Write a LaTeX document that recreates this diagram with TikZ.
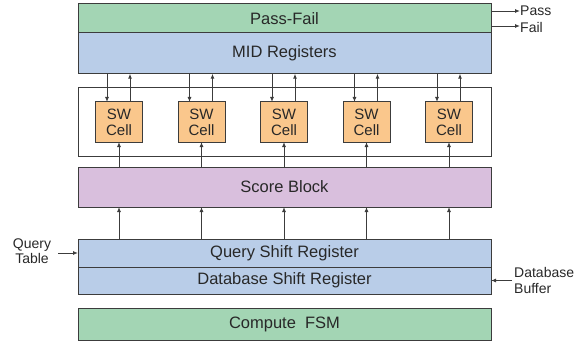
\documentclass[tikz,border=0pt]{standalone}
\usepackage{fontspec}
\setmainfont{Liberation Sans}
\usetikzlibrary{arrows.meta}
\definecolor{lgreen}{RGB}{163,213,180}
\definecolor{lblue}{RGB}{185,205,232}
\definecolor{lpurple}{RGB}{217,191,221}
\definecolor{lorange}{RGB}{250,199,140}
\definecolor{edge}{RGB}{60,60,60}
\definecolor{txt}{RGB}{40,40,40}
\begin{document}
\begin{tikzpicture}[x=1pt,y=-1pt,
  blk/.style={draw=edge,line width=1pt,inner sep=0pt,outer sep=0pt,minimum width=413pt,text=txt,font=\fontsize{16.5}{18}\selectfont},
  cellbox/.style={draw=edge,line width=1pt,fill=lorange,inner sep=0pt,outer sep=0pt,minimum width=47pt,minimum height=40pt,align=center,text=txt,font=\fontsize{15}{16}\selectfont},
  lbl/.style={inner sep=0pt,align=left,text=txt,font=\fontsize{14}{15.5}\selectfont},
  arr/.style={draw=edge,line width=0.9pt,-{Latex[length=5pt,width=4pt]}}]
\useasboundingbox (0,0) rectangle (587,345);
\node[blk,fill=lgreen,minimum height=29.5pt] (pf) at (284.5,18.25) {Pass-Fail};
\node[blk,fill=lblue,minimum height=40.7pt] (mid) at (284.5,53.35) {MID Registers};
\node[blk,minimum height=69pt] (cont) at (284.5,122) {};
\foreach \i/\x in {1/119,2/201.5,3/284,4/366.5,5/449}{
  \node[cellbox] (c\i) at (\x,122) {SW\\Cell};
  \draw[arr] ([xshift=-12pt]c\i.north |- mid.south) -- ([xshift=-12pt]c\i.north);
  \draw[arr] ([xshift=11pt]c\i.north) -- ([xshift=11pt]c\i.north |- mid.south);
}
\node[blk,fill=lpurple,minimum height=40pt] (score) at (284.5,187) {Score Block};
\node[blk,fill=lblue,minimum height=28pt] (qsr) at (284.5,253) {Query Shift Register};
\node[blk,fill=lblue,minimum height=27pt] (dsr) at (284.5,280.5) {Database Shift Register};
\node[blk,fill=lgreen,minimum height=32pt] (fsm) at (284.5,324) {Compute\ \ FSM};
\foreach \i in {1,...,5}{
  \draw[arr] (c\i.south |- score.north) -- (c\i.south);
  \draw[arr] (c\i.south |- qsr.north) -- (c\i.south |- score.south);
}
\node[lbl,align=center] (qt) at (32,251) {Query\\Table};
\coordinate (qin) at (58,253);
\draw[arr] (qin) -- (qsr.west);
\node[lbl,anchor=west] (db) at (514,280.5) {Database\\Buffer};
\coordinate (din) at (512,280.5);
\draw[arr] (din) -- (dsr.east);
\coordinate (po) at (491,11);
\coordinate (fo) at (491,26);
\node[lbl,anchor=west] (pass) at (520,11) {Pass};
\node[lbl,anchor=west] (fail) at (520,27) {Fail};
\draw[arr] (po) -- (pass.west);
\draw[arr] (fo) -- (fo -| fail.west);
\end{tikzpicture}
\end{document}
